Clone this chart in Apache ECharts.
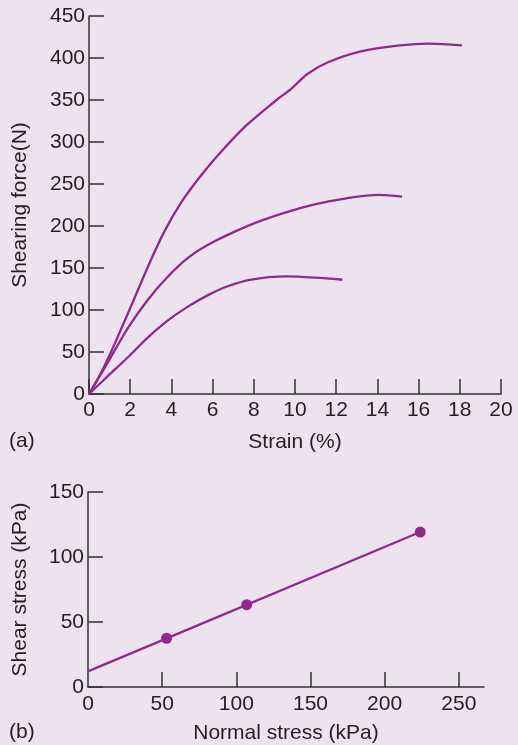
<!DOCTYPE html>
<html>
<head>
<meta charset="utf-8">
<style>
  html, body { margin: 0; padding: 0; background: #ede3ef; }
  #chart { width: 518px; height: 745px; }
</style>
<script src="https://cdn.jsdelivr.net/npm/echarts@6/dist/echarts.min.js"></script>
</head>
<body>
<div id="chart"></div>
<script>
// ---- Panel (a): shearing force vs strain ----
const curveHighStrain = [0, 0.6, 1.25, 2.05, 2.85, 3.65, 4.5, 5.4, 6.4, 7.65, 9.1, 9.8, 10.6, 11.6, 13.2, 15.1, 16.5, 18.1];
const curveHighForce  = [0, 26, 60, 105, 151, 193, 229, 259, 288, 320, 350, 363, 381, 395, 408, 415, 417, 415];

const curveMidStrain = [0, 0.9, 1.9, 2.85, 3.8, 4.8, 5.8, 7.8, 9.4, 11.0, 12.5, 14.1, 15.2];
const curveMidForce  = [0, 37, 79, 112, 139, 162, 178, 201, 215, 226, 233, 237, 235];

const curveLowStrain = [0, 0.9, 1.9, 2.8, 3.8, 4.8, 5.8, 6.7, 7.8, 9.6, 11.0, 12.3];
const curveLowForce  = [0, 21, 44, 66, 87, 104, 118, 128, 136, 140, 138.5, 136];

// ---- Panel (b): shear stress vs normal stress ----
const normalStress = [53, 107, 224];
const shearStress  = [37.5, 63.3, 119.2];
const fitNormal = [0, 224];
const fitShear  = [12, 119.2];
const normalLabels = [0, 50, 100, 150, 200, 250];
const normalTicks  = [50, 100, 150, 200, 250];

const purple = '#92278f';
const axisColor = '#333333';
const textColor = '#231f20';
const font = 'Liberation Sans, Arial, Helvetica, sans-serif';
const fs = 21;

function pairs(xs, ys) { return xs.map((x, i) => [x, ys[i]]); }

const axisCommon = {
  axisLine: { show: true, lineStyle: { color: axisColor, width: 1.5 } },
  axisTick: { show: true, inside: true, length: 15, lineStyle: { color: axisColor, width: 1.5 } },
  splitLine: { show: false },
  nameTextStyle: { color: textColor, fontSize: fs, fontFamily: font },
};
const labelCommon = { color: textColor, fontSize: fs, fontFamily: font };

const chart = echarts.init(document.getElementById('chart'), null, { renderer: 'canvas' });
chart.setOption({
  backgroundColor: '#ede3ef',
  animation: false,
  grid: [
    { left: 89, top: 16, width: 412, height: 378 },
    { left: 88, top: 492, width: 396, height: 195 }
  ],
  xAxis: [
    Object.assign({}, axisCommon, {
      gridIndex: 0, type: 'value', min: 0, max: 20, interval: 2,
      name: 'Strain (%)', nameLocation: 'middle', nameGap: 38,
      axisLabel: Object.assign({}, labelCommon, { margin: 6 }),
    }),
    Object.assign({}, axisCommon, {
      gridIndex: 1, type: 'value', min: 0, max: 267,
      name: 'Normal stress (kPa)', nameLocation: 'middle', nameGap: 36,
      axisTick: Object.assign({}, axisCommon.axisTick, { customValues: normalTicks }),
      axisLabel: Object.assign({}, labelCommon, { margin: 7, customValues: normalLabels }),
    })
  ],
  yAxis: [
    Object.assign({}, axisCommon, {
      gridIndex: 0, type: 'value', min: 0, max: 450, interval: 50,
      name: 'Shearing force(N)', nameLocation: 'middle', nameGap: 58,
      axisLabel: Object.assign({}, labelCommon, { margin: 4 }),
    }),
    Object.assign({}, axisCommon, {
      gridIndex: 1, type: 'value', min: 0, max: 150, interval: 50,
      name: 'Shear stress (kPa)', nameLocation: 'middle', nameGap: 57,
      axisLabel: Object.assign({}, labelCommon, { margin: 4 }),
    })
  ],
  graphic: [
    { type: 'text', left: 9, top: 431, style: { text: '(a)', fill: textColor, font: fs + 'px ' + font } },
    { type: 'text', left: 9, top: 722, style: { text: '(b)', fill: textColor, font: fs + 'px ' + font } }
  ],
  series: [
    { type: 'line', xAxisIndex: 0, yAxisIndex: 0, data: pairs(curveHighStrain, curveHighForce),
      smooth: 0.3, showSymbol: false, lineStyle: { color: purple, width: 2.3 } },
    { type: 'line', xAxisIndex: 0, yAxisIndex: 0, data: pairs(curveMidStrain, curveMidForce),
      smooth: 0.3, showSymbol: false, lineStyle: { color: purple, width: 2.3 } },
    { type: 'line', xAxisIndex: 0, yAxisIndex: 0, data: pairs(curveLowStrain, curveLowForce),
      smooth: 0.3, showSymbol: false, lineStyle: { color: purple, width: 2.3 } },
    { type: 'line', xAxisIndex: 1, yAxisIndex: 1, data: pairs(fitNormal, fitShear),
      showSymbol: false, lineStyle: { color: purple, width: 2.3 } },
    { type: 'scatter', xAxisIndex: 1, yAxisIndex: 1, data: pairs(normalStress, shearStress),
      symbolSize: 11, itemStyle: { color: purple, opacity: 1 } }
  ]
});
</script>
</body>
</html>
